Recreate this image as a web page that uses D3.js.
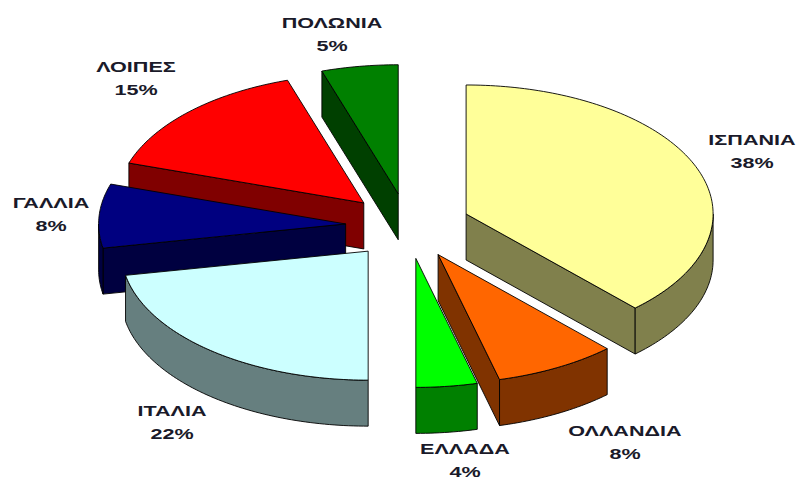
<!DOCTYPE html>
<html>
<head>
<meta charset="utf-8">
<script src="https://cdn.jsdelivr.net/npm/d3@7"></script>
<style>
  html, body { margin: 0; padding: 0; background: #fff; }
  text { font-family: "Liberation Sans", Arial, sans-serif; font-weight: bold; fill: #1a1a2a; }
</style>
</head>
<body>
<svg id="chart" width="796" height="479"></svg>
<script>
// Market share by country, clockwise from twelve o'clock
const countries = ["ΙΣΠΑΝΙΑ", "ΟΛΛΑΝΔΙΑ", "ΕΛΛΑΔΑ", "ΙΤΑΛΙΑ", "ΓΑΛΛΙΑ", "ΛΟΙΠΕΣ", "ΠΟΛΩΝΙΑ"];
const shares = [38, 8, 4, 22, 8, 15, 5];
const topColors = ["#ffff99", "#ff6600", "#00ff00", "#ccffff", "#000080", "#ff0000", "#008000"];
const sideColors = ["#80804c", "#803300", "#008000", "#667f7f", "#000040", "#800000", "#004000"];

// Label centres (first line), in page pixels
const labelX = [752, 625, 465, 172, 51, 136, 332];
const labelY = [140, 431, 449, 411, 203, 67, 23];

const cx = 408, cy = 226, rx = 247, ry = 129, depth = 46, explode = 0.253;
const TAU = 2 * Math.PI;

// Unit-ellipse coordinates map onto the tilted pie
const x = d3.scaleLinear().domain([-1, 1]).range([cx - rx, cx + rx]);
const y = d3.scaleLinear().domain([-1, 1]).range([cy + ry, cy - ry]);

const line = d3.line().x(d => x(d[0])).y(d => y(d[1]) + (d[2] || 0));
const svg = d3.select("#chart");

const slices = d3.pie().sort(null).value(d => d)(shares).map((s, i) => {
  const mid = (s.startAngle + s.endAngle) / 2;
  return { ...s, i, mid, ox: explode * Math.sin(mid), oy: explode * Math.cos(mid) };
});

const arcPoints = (s, a0, a1, drop) => {
  const n = Math.max(2, Math.ceil((a1 - a0) / 0.02));
  return d3.range(n + 1).map(k => {
    const a = a0 + (a1 - a0) * k / n;
    return [s.ox + Math.sin(a), s.oy + Math.cos(a), drop];
  });
};

// Back slices first so the nearer ones overlap them
const ordered = slices.slice().sort((a, b) => Math.cos(b.mid) - Math.cos(a.mid));

const edge = { stroke: "#000", "stroke-width": 0.9, "stroke-linejoin": "round" };
const addPath = (pts, fill) => {
  const p = svg.append("path").attr("d", line(pts) + "Z").attr("fill", fill);
  Object.entries(edge).forEach(([k, v]) => p.attr(k, v));
};

ordered.forEach(s => {
  const apex = [s.ox, s.oy];
  const wall = a => [
    [apex[0], apex[1], 0],
    [s.ox + Math.sin(a), s.oy + Math.cos(a), 0],
    [s.ox + Math.sin(a), s.oy + Math.cos(a), depth],
    [apex[0], apex[1], depth]
  ];
  // Radial cut faces that turn toward the viewer
  if (Math.sin(s.startAngle) < -1e-6) addPath(wall(s.startAngle), sideColors[s.i]);
  if (Math.sin(s.endAngle) > 1e-6) addPath(wall(s.endAngle), sideColors[s.i]);

  // Rim on the front half of the pie
  const a0 = Math.max(s.startAngle, TAU / 4), a1 = Math.min(s.endAngle, 3 * TAU / 4);
  if (a1 > a0) {
    addPath(arcPoints(s, a0, a1, 0).concat(arcPoints(s, a0, a1, depth).reverse()), sideColors[s.i]);
  }

  // Top face
  addPath([[apex[0], apex[1], 0]].concat(arcPoints(s, s.startAngle, s.endAngle, 0)), topColors[s.i]);
});

// Two-line labels in a wide setting: country name and share
const labels = svg.selectAll("g.label").data(slices).join("g")
  .attr("class", "label")
  .attr("transform", d => `translate(${labelX[d.i]},${labelY[d.i]}) scale(1.44,1)`);
labels.append("text")
  .attr("y", 5).attr("text-anchor", "middle").attr("font-size", 15)
  .text(d => countries[d.i]);
labels.append("text")
  .attr("y", 28.5).attr("text-anchor", "middle").attr("font-size", 15)
  .text(d => d.value + "%");
</script>
</body>
</html>
